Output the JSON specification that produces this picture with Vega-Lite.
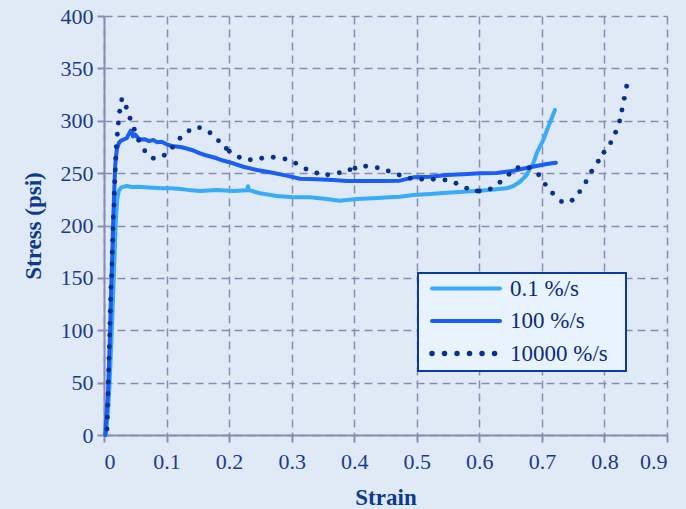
{
  "$schema": "https://vega.github.io/schema/vega-lite/v6.json",
  "width": 563,
  "height": 419,
  "autosize": {"type": "none"},
  "padding": {"left": 104, "top": 16, "right": 19, "bottom": 74},
  "background": "#e0eaf6",
  "config": {
    "view": {"stroke": null},
    "font": "Liberation Serif, Times New Roman, serif",
    "axis": {
      "domainColor": "#8a8db2",
      "domainWidth": 2,
      "tickColor": "#8a8db2",
      "tickWidth": 2,
      "tickSize": 7,
      "gridColor": "#8a8db2",
      "gridDash": [8, 5],
      "gridWidth": 1.5,
      "labelFont": "Liberation Serif, Times New Roman, serif",
      "labelFontSize": 22,
      "labelColor": "#1b3a8c",
      "titleFont": "Liberation Serif, Times New Roman, serif",
      "titleFontSize": 23,
      "titleFontWeight": "bold",
      "titleColor": "#0c3a8e"
    },
    "legend": {"strokeWidth": 2}
  },
  "datasets": {
    "curves": [
      {"series": "0.1 %/s", "strain": 0.003, "stress": 0},
      {"series": "0.1 %/s", "strain": 0.006, "stress": 20},
      {"series": "0.1 %/s", "strain": 0.0085, "stress": 43},
      {"series": "0.1 %/s", "strain": 0.0115, "stress": 85},
      {"series": "0.1 %/s", "strain": 0.0149, "stress": 138},
      {"series": "0.1 %/s", "strain": 0.0187, "stress": 202},
      {"series": "0.1 %/s", "strain": 0.021, "stress": 224},
      {"series": "0.1 %/s", "strain": 0.0235, "stress": 233},
      {"series": "0.1 %/s", "strain": 0.027, "stress": 236},
      {"series": "0.1 %/s", "strain": 0.0308, "stress": 237},
      {"series": "0.1 %/s", "strain": 0.0363, "stress": 237.7},
      {"series": "0.1 %/s", "strain": 0.045, "stress": 236.8},
      {"series": "0.1 %/s", "strain": 0.0545, "stress": 237},
      {"series": "0.1 %/s", "strain": 0.0655, "stress": 236.5},
      {"series": "0.1 %/s", "strain": 0.078, "stress": 236},
      {"series": "0.1 %/s", "strain": 0.0922, "stress": 235.5},
      {"series": "0.1 %/s", "strain": 0.105, "stress": 235.6},
      {"series": "0.1 %/s", "strain": 0.1188, "stress": 235.1},
      {"series": "0.1 %/s", "strain": 0.135, "stress": 234},
      {"series": "0.1 %/s", "strain": 0.1535, "stress": 233},
      {"series": "0.1 %/s", "strain": 0.1801, "stress": 233.9},
      {"series": "0.1 %/s", "strain": 0.2067, "stress": 233},
      {"series": "0.1 %/s", "strain": 0.229, "stress": 233.6},
      {"series": "0.1 %/s", "strain": 0.2302, "stress": 237.5},
      {"series": "0.1 %/s", "strain": 0.2315, "stress": 233.8},
      {"series": "0.1 %/s", "strain": 0.2494, "stress": 230.8},
      {"series": "0.1 %/s", "strain": 0.2761, "stress": 228.2},
      {"series": "0.1 %/s", "strain": 0.3026, "stress": 226.9},
      {"series": "0.1 %/s", "strain": 0.3293, "stress": 226.9},
      {"series": "0.1 %/s", "strain": 0.356, "stress": 225.3},
      {"series": "0.1 %/s", "strain": 0.3772, "stress": 223.7},
      {"series": "0.1 %/s", "strain": 0.4039, "stress": 225.3},
      {"series": "0.1 %/s", "strain": 0.4305, "stress": 226},
      {"series": "0.1 %/s", "strain": 0.4572, "stress": 226.9},
      {"series": "0.1 %/s", "strain": 0.4731, "stress": 227.5},
      {"series": "0.1 %/s", "strain": 0.4944, "stress": 229.1},
      {"series": "0.1 %/s", "strain": 0.5211, "stress": 230.1},
      {"series": "0.1 %/s", "strain": 0.5478, "stress": 231.3},
      {"series": "0.1 %/s", "strain": 0.5743, "stress": 232.3},
      {"series": "0.1 %/s", "strain": 0.601, "stress": 233.2},
      {"series": "0.1 %/s", "strain": 0.6277, "stress": 234.6},
      {"series": "0.1 %/s", "strain": 0.6437, "stress": 235.5},
      {"series": "0.1 %/s", "strain": 0.6543, "stress": 237.7},
      {"series": "0.1 %/s", "strain": 0.665, "stress": 241.8},
      {"series": "0.1 %/s", "strain": 0.6757, "stress": 248.2},
      {"series": "0.1 %/s", "strain": 0.681, "stress": 254.6},
      {"series": "0.1 %/s", "strain": 0.6862, "stress": 259.4},
      {"series": "0.1 %/s", "strain": 0.6917, "stress": 268.9},
      {"series": "0.1 %/s", "strain": 0.6942, "stress": 272.1},
      {"series": "0.1 %/s", "strain": 0.7022, "stress": 281.6},
      {"series": "0.1 %/s", "strain": 0.7113, "stress": 296},
      {"series": "0.1 %/s", "strain": 0.7209, "stress": 310.3},

      {"series": "100 %/s", "strain": 0.002, "stress": 0},
      {"series": "100 %/s", "strain": 0.0064, "stress": 40},
      {"series": "100 %/s", "strain": 0.0096, "stress": 95},
      {"series": "100 %/s", "strain": 0.011, "stress": 130},
      {"series": "100 %/s", "strain": 0.0128, "stress": 163},
      {"series": "100 %/s", "strain": 0.0149, "stress": 208},
      {"series": "100 %/s", "strain": 0.0165, "stress": 235},
      {"series": "100 %/s", "strain": 0.018, "stress": 258},
      {"series": "100 %/s", "strain": 0.0205, "stress": 273},
      {"series": "100 %/s", "strain": 0.024, "stress": 279},
      {"series": "100 %/s", "strain": 0.0272, "stress": 281},
      {"series": "100 %/s", "strain": 0.031, "stress": 282},
      {"series": "100 %/s", "strain": 0.0363, "stress": 283.3},
      {"series": "100 %/s", "strain": 0.0395, "stress": 287},
      {"series": "100 %/s", "strain": 0.0427, "stress": 290.5},
      {"series": "100 %/s", "strain": 0.045, "stress": 288},
      {"series": "100 %/s", "strain": 0.0464, "stress": 285},
      {"series": "100 %/s", "strain": 0.0496, "stress": 287},
      {"series": "100 %/s", "strain": 0.0548, "stress": 283.3},
      {"series": "100 %/s", "strain": 0.06, "stress": 282},
      {"series": "100 %/s", "strain": 0.0655, "stress": 282.3},
      {"series": "100 %/s", "strain": 0.072, "stress": 280.5},
      {"series": "100 %/s", "strain": 0.0788, "stress": 281.6},
      {"series": "100 %/s", "strain": 0.085, "stress": 279.5},
      {"series": "100 %/s", "strain": 0.0922, "stress": 280},
      {"series": "100 %/s", "strain": 0.1, "stress": 277.5},
      {"series": "100 %/s", "strain": 0.1082, "stress": 275.9},
      {"series": "100 %/s", "strain": 0.116, "stress": 275.5},
      {"series": "100 %/s", "strain": 0.1242, "stress": 274.7},
      {"series": "100 %/s", "strain": 0.132, "stress": 273.5},
      {"series": "100 %/s", "strain": 0.1402, "stress": 272.1},
      {"series": "100 %/s", "strain": 0.1535, "stress": 268.9},
      {"series": "100 %/s", "strain": 0.1614, "stress": 267.3},
      {"series": "100 %/s", "strain": 0.1801, "stress": 264.2},
      {"series": "100 %/s", "strain": 0.19, "stress": 262},
      {"series": "100 %/s", "strain": 0.2014, "stress": 260.3},
      {"series": "100 %/s", "strain": 0.2227, "stress": 256.1},
      {"series": "100 %/s", "strain": 0.2441, "stress": 253},
      {"series": "100 %/s", "strain": 0.2653, "stress": 250.8},
      {"series": "100 %/s", "strain": 0.292, "stress": 247.6},
      {"series": "100 %/s", "strain": 0.3133, "stress": 244.7},
      {"series": "100 %/s", "strain": 0.34, "stress": 244.1},
      {"series": "100 %/s", "strain": 0.3665, "stress": 243.4},
      {"series": "100 %/s", "strain": 0.388, "stress": 242.5},
      {"series": "100 %/s", "strain": 0.4199, "stress": 242.5},
      {"series": "100 %/s", "strain": 0.4465, "stress": 242.5},
      {"series": "100 %/s", "strain": 0.4731, "stress": 242.8},
      {"series": "100 %/s", "strain": 0.4944, "stress": 246},
      {"series": "100 %/s", "strain": 0.5211, "stress": 246.6},
      {"series": "100 %/s", "strain": 0.5478, "stress": 248.2},
      {"series": "100 %/s", "strain": 0.5743, "stress": 248.9},
      {"series": "100 %/s", "strain": 0.601, "stress": 249.8},
      {"series": "100 %/s", "strain": 0.6277, "stress": 250.1},
      {"series": "100 %/s", "strain": 0.6543, "stress": 252.3},
      {"series": "100 %/s", "strain": 0.681, "stress": 255.6},
      {"series": "100 %/s", "strain": 0.7076, "stress": 258.7},
      {"series": "100 %/s", "strain": 0.7225, "stress": 260},

      {"series": "10000 %/s", "strain": 0.0048, "stress": 5.7},
      {"series": "10000 %/s", "strain": 0.0053, "stress": 16.9},
      {"series": "10000 %/s", "strain": 0.0059, "stress": 28.4},
      {"series": "10000 %/s", "strain": 0.0064, "stress": 39.4},
      {"series": "10000 %/s", "strain": 0.0069, "stress": 50.6},
      {"series": "10000 %/s", "strain": 0.0075, "stress": 62.1},
      {"series": "10000 %/s", "strain": 0.008, "stress": 73.2},
      {"series": "10000 %/s", "strain": 0.0085, "stress": 84.3},
      {"series": "10000 %/s", "strain": 0.0091, "stress": 95.5},
      {"series": "10000 %/s", "strain": 0.0096, "stress": 106.6},
      {"series": "10000 %/s", "strain": 0.0101, "stress": 118.1},
      {"series": "10000 %/s", "strain": 0.0107, "stress": 129.6},
      {"series": "10000 %/s", "strain": 0.0112, "stress": 141},
      {"series": "10000 %/s", "strain": 0.0123, "stress": 152.1},
      {"series": "10000 %/s", "strain": 0.0128, "stress": 163.3},
      {"series": "10000 %/s", "strain": 0.0133, "stress": 174.4},
      {"series": "10000 %/s", "strain": 0.0139, "stress": 185.9},
      {"series": "10000 %/s", "strain": 0.0144, "stress": 197},
      {"series": "10000 %/s", "strain": 0.0149, "stress": 208.1},
      {"series": "10000 %/s", "strain": 0.016, "stress": 219.6},
      {"series": "10000 %/s", "strain": 0.0165, "stress": 230.8},
      {"series": "10000 %/s", "strain": 0.0171, "stress": 241.8},
      {"series": "10000 %/s", "strain": 0.0181, "stress": 253},
      {"series": "10000 %/s", "strain": 0.0187, "stress": 264.2},
      {"series": "10000 %/s", "strain": 0.0197, "stress": 275.2},
      {"series": "10000 %/s", "strain": 0.0213, "stress": 287.1},
      {"series": "10000 %/s", "strain": 0.0229, "stress": 297.9},
      {"series": "10000 %/s", "strain": 0.0251, "stress": 309},
      {"series": "10000 %/s", "strain": 0.0283, "stress": 320.1},
      {"series": "10000 %/s", "strain": 0.0356, "stress": 312.9},
      {"series": "10000 %/s", "strain": 0.0416, "stress": 302.4},
      {"series": "10000 %/s", "strain": 0.0484, "stress": 291.9},
      {"series": "10000 %/s", "strain": 0.0555, "stress": 281.3},
      {"series": "10000 %/s", "strain": 0.0651, "stress": 271.4},
      {"series": "10000 %/s", "strain": 0.0788, "stress": 264.2},
      {"series": "10000 %/s", "strain": 0.0964, "stress": 267},
      {"series": "10000 %/s", "strain": 0.1095, "stress": 274.7},
      {"series": "10000 %/s", "strain": 0.1215, "stress": 283.3},
      {"series": "10000 %/s", "strain": 0.1359, "stress": 290.5},
      {"series": "10000 %/s", "strain": 0.1527, "stress": 293.4},
      {"series": "10000 %/s", "strain": 0.1694, "stress": 288.6},
      {"series": "10000 %/s", "strain": 0.183, "stress": 281},
      {"series": "10000 %/s", "strain": 0.1955, "stress": 273.5},
      {"series": "10000 %/s", "strain": 0.2003, "stress": 271},
      {"series": "10000 %/s", "strain": 0.2163, "stress": 265.1},
      {"series": "10000 %/s", "strain": 0.2339, "stress": 262.8},
      {"series": "10000 %/s", "strain": 0.2521, "stress": 264.2},
      {"series": "10000 %/s", "strain": 0.2706, "stress": 265.1},
      {"series": "10000 %/s", "strain": 0.2893, "stress": 263.5},
      {"series": "10000 %/s", "strain": 0.3064, "stress": 259.4},
      {"series": "10000 %/s", "strain": 0.3229, "stress": 254},
      {"series": "10000 %/s", "strain": 0.3402, "stress": 250.1},
      {"series": "10000 %/s", "strain": 0.3576, "stress": 248.5},
      {"series": "10000 %/s", "strain": 0.3761, "stress": 250.4},
      {"series": "10000 %/s", "strain": 0.3932, "stress": 253.3},
      {"series": "10000 %/s", "strain": 0.4012, "stress": 254.6},
      {"series": "10000 %/s", "strain": 0.4183, "stress": 256.5},
      {"series": "10000 %/s", "strain": 0.4369, "stress": 255.2},
      {"series": "10000 %/s", "strain": 0.4544, "stress": 252},
      {"series": "10000 %/s", "strain": 0.4719, "stress": 248.2},
      {"series": "10000 %/s", "strain": 0.4896, "stress": 245.1},
      {"series": "10000 %/s", "strain": 0.5078, "stress": 244.1},
      {"series": "10000 %/s", "strain": 0.5264, "stress": 244.1},
      {"series": "10000 %/s", "strain": 0.5451, "stress": 243.4},
      {"series": "10000 %/s", "strain": 0.5627, "stress": 240.3},
      {"series": "10000 %/s", "strain": 0.5798, "stress": 235.5},
      {"series": "10000 %/s", "strain": 0.5967, "stress": 232.9},
      {"series": "10000 %/s", "strain": 0.5999, "stress": 232.9},
      {"series": "10000 %/s", "strain": 0.6175, "stress": 234.9},
      {"series": "10000 %/s", "strain": 0.633, "stress": 241.3},
      {"series": "10000 %/s", "strain": 0.6474, "stress": 248.9},
      {"series": "10000 %/s", "strain": 0.6618, "stress": 255.2},
      {"series": "10000 %/s", "strain": 0.6798, "stress": 255.2},
      {"series": "10000 %/s", "strain": 0.6949, "stress": 248.5},
      {"series": "10000 %/s", "strain": 0.7054, "stress": 239.3},
      {"series": "10000 %/s", "strain": 0.7172, "stress": 230.8},
      {"series": "10000 %/s", "strain": 0.7313, "stress": 222.9},
      {"series": "10000 %/s", "strain": 0.7484, "stress": 224.1},
      {"series": "10000 %/s", "strain": 0.7604, "stress": 232.3},
      {"series": "10000 %/s", "strain": 0.7705, "stress": 241.8},
      {"series": "10000 %/s", "strain": 0.7796, "stress": 251.8},
      {"series": "10000 %/s", "strain": 0.7901, "stress": 261.3},
      {"series": "10000 %/s", "strain": 0.7992, "stress": 269.9},
      {"series": "10000 %/s", "strain": 0.81, "stress": 279.1},
      {"series": "10000 %/s", "strain": 0.8179, "stress": 289},
      {"series": "10000 %/s", "strain": 0.8243, "stress": 299.8},
      {"series": "10000 %/s", "strain": 0.828, "stress": 310.3},
      {"series": "10000 %/s", "strain": 0.8317, "stress": 321.4},
      {"series": "10000 %/s", "strain": 0.8355, "stress": 332.9}
    ]
  },
  "layer": [
    {
      "data": {"name": "curves"},
      "transform": [{"filter": "datum.series !== '10000 %/s'"}],
      "mark": {"type": "line", "strokeWidth": 4, "strokeJoin": "round", "strokeCap": "round"},
      "encoding": {
        "x": {
          "field": "strain", "type": "quantitative", "title": "Strain",
          "scale": {"domain": [0, 0.9], "nice": false},
          "axis": {"values": [0, 0.1, 0.2, 0.3, 0.4, 0.5, 0.6, 0.7, 0.8, 0.9], "format": "~g", "labelPadding": 9, "titlePadding": 14}
        },
        "y": {
          "field": "stress", "type": "quantitative", "title": "Stress (psi)",
          "scale": {"domain": [0, 400], "nice": false},
          "axis": {"values": [0, 50, 100, 150, 200, 250, 300, 350, 400], "labelPadding": 4, "titlePadding": 15}
        },
        "color": {
          "field": "series", "type": "nominal",
          "scale": {"domain": ["0.1 %/s", "100 %/s", "10000 %/s"], "range": ["#3aabf7", "#1a5ef5", "#06318f"]},
          "legend": {
            "title": ".",
            "titleOrient": "right",
            "titleFontSize": 8,
            "titleColor": "transparent",
            "titlePadding": 11,
            "orient": "none",
            "legendX": 314,
            "legendY": 257,
            "fillColor": "#e8f3fe",
            "strokeColor": "#0b3a9c",
            "padding": 5.5,
            "symbolType": "stroke",
            "symbolSize": 35532,
            "symbolStrokeWidth": 4,
            "clipHeight": 20,
            "rowPadding": 9.5,
            "labelFont": "Liberation Serif, Times New Roman, serif",
            "labelFontSize": 23,
            "labelColor": "#0d2a80",
            "encode": {
              "symbols": {
                "update": {
                  "x": {"value": 102.75},
                  "fill": {"value": "transparent"},
                  "stroke": {"scale": "color", "field": "value"},
                  "strokeCap": {"value": "round"},
                  "strokeWidth": {"signal": "datum.value === '10000 %/s' ? 5.5 : 4"},
                  "strokeDash": {"signal": "datum.value === '10000 %/s' ? [0.01, 12.5, 0.01, 12.5, 0.01, 12.5, 0.01, 12.5, 0.01, 12.5, 0.01, 1000] : [68, 1000]"}
                }
              },
              "labels": {
                "update": {
                  "x": {"value": 86.5}
                }
              }
            }
          }
        }
      }
    },
    {
      "data": {"name": "curves"},
      "transform": [{"filter": "datum.series === '10000 %/s'"}],
      "mark": {"type": "point", "filled": true, "shape": "circle", "size": 24, "opacity": 1},
      "encoding": {
        "x": {"field": "strain", "type": "quantitative"},
        "y": {"field": "stress", "type": "quantitative"},
        "color": {"field": "series", "type": "nominal"}
      }
    },
    {
      "mark": {"type": "rect", "color": "#ffffff"},
      "encoding": {
        "x": {"datum": 0.1614, "type": "quantitative"},
        "x2": {"datum": 0.652},
        "y": {"datum": 405.7, "type": "quantitative"},
        "y2": {"datum": 420}
      }
    }
  ]
}
